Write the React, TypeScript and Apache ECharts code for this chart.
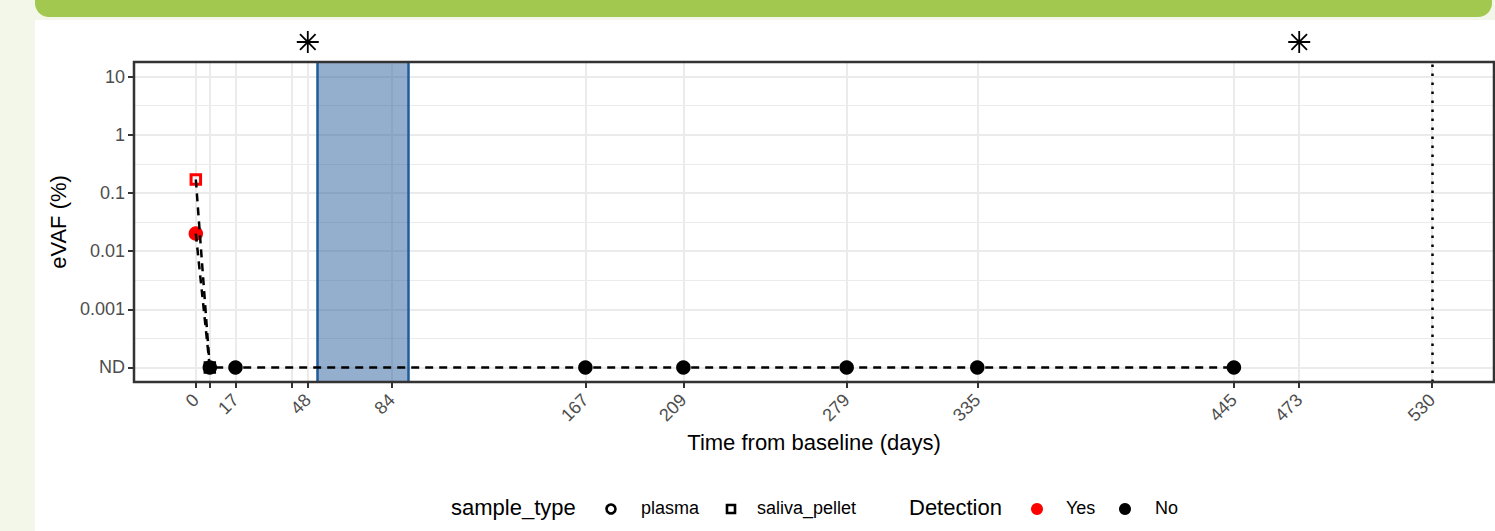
import React, { useEffect, useRef } from "react";
import * as echarts from "echarts";

// ---------- data ----------
const ND_VALUE = 0.0001; // position used for "not detected"
const plasmaDays = [0, 6, 17, 167, 209, 279, 335, 445];
const plasmaVAF: (number | string)[] = [0.02, "ND", "ND", "ND", "ND", "ND", "ND", "ND"];
const plasmaDetection = ["Yes", "No", "No", "No", "No", "No", "No", "No"];

const salivaDays = [0, 6];
const salivaVAF: (number | string)[] = [0.17, "ND"];
const salivaDetection = ["Yes", "No"];

const xTickDays = [0, 6, 17, 41, 48, 84, 167, 209, 279, 335, 445, 473, 530];
const xLabelDays = [0, 17, 48, 84, 167, 209, 279, 335, 445, 473, 530];
const yTickValues = [ND_VALUE, 0.001, 0.01, 0.1, 1, 10];
const yTickLabels = ["ND", "0.001", "0.01", "0.1", "1", "10"];

const treatmentWindow = [52, 91];
const eventDays = [48, 473];
const followUpEnd = 530;

const X_MIN = -26.5;
const X_MAX = 556.5;
const Y_MIN = -4.25; // log10 units
const Y_MAX = 1.25;

const detectionColors: Record<string, string> = { Yes: "#ff0000", No: "#000000" };

const FONT = "'Liberation Sans', Arial, Helvetica, sans-serif";

const toLog = (v: number | string) => Math.log10(v === "ND" ? ND_VALUE : (v as number));
const yTickLogs = yTickValues.map((v) => Math.log10(v));
const yMinorLogs = yTickLogs.slice(0, -1).map((v, i) => (v + yTickLogs[i + 1]) / 2);

const STAR =
  "path://M11 0L11 22M0 11L22 11M3.2 3.2L18.8 18.8M18.8 3.2L3.2 18.8";

export default function App() {
  const ref = useRef<HTMLDivElement>(null);

  useEffect(() => {
    if (!ref.current) return;
    const chart = echarts.init(ref.current, undefined, { renderer: "svg" });

    const option: any = {
      animation: false,
      textStyle: { fontFamily: FONT },
      grid: {
        left: 134,
        top: 62,
        right: 1,
        height: 320,
        show: true,
        borderColor: "#333333",
        borderWidth: 2.5,
        backgroundColor: "transparent",
        z: 10,
      },
      xAxis: {
        type: "value",
        min: X_MIN,
        max: X_MAX,
        axisLine: { show: false, onZero: false },
        axisTick: {
          show: true,
          customValues: xTickDays,
          length: 6,
          lineStyle: { color: "#333333", width: 2 },
        },
        axisLabel: {
          customValues: xLabelDays,
          rotate: 45,
          fontSize: 18,
          color: "#4d4d4d",
          margin: 15,
          fontFamily: FONT,
        },
        splitLine: { show: true, lineStyle: { color: "#ebebeb", width: 2 } },
        name: "Time from baseline (days)",
        nameLocation: "middle",
        nameGap: 48,
        nameTextStyle: { fontSize: 22, color: "#000000", fontFamily: FONT },
      },
      yAxis: {
        type: "value",
        min: Y_MIN,
        max: Y_MAX,
        axisLine: { show: false, onZero: false },
        axisTick: {
          show: true,
          customValues: yTickLogs,
          length: 6,
          lineStyle: { color: "#333333", width: 2 },
        },
        axisLabel: {
          customValues: yTickLogs,
          fontSize: 18,
          color: "#4d4d4d",
          margin: 9,
          fontFamily: FONT,
          formatter: (v: number) => {
            const i = yTickLogs.findIndex((t) => Math.abs(t - v) < 1e-6);
            return i >= 0 ? yTickLabels[i] : "";
          },
        },
        splitLine: { show: true, lineStyle: { color: "#ebebeb", width: 2 } },
        name: "eVAF (%)",
        nameLocation: "middle",
        nameGap: 61,
        nameTextStyle: { fontSize: 22, color: "#000000", fontFamily: FONT },
      },
      series: [
        {
          name: "minorGrid",
          type: "line",
          data: [],
          z: 0,
          silent: true,
          markLine: {
            z: 0,
            silent: true,
            symbol: "none",
            label: { show: false },
            lineStyle: { color: "#ebebeb", width: 1, type: "solid" },
            emphasis: { disabled: true },
            data: yMinorLogs.map((v) => ({ yAxis: v })),
          },
        },
        {
          name: "treatment",
          type: "line",
          data: [],
          z: 2,
          silent: true,
          markArea: {
            z: 1,
            silent: true,
            itemStyle: { color: "rgba(39,96,155,0.5)", borderWidth: 0 },
            emphasis: { disabled: true },
            data: [[{ xAxis: treatmentWindow[0] }, { xAxis: treatmentWindow[1] }]],
          },
          markLine: {
            silent: true,
            symbol: "none",
            label: { show: false },
            lineStyle: { color: "#1f5c99", width: 2.5, type: "solid" },
            emphasis: { disabled: true },
            data: treatmentWindow.map((d) => ({ xAxis: d })),
          },
        },
        {
          name: "followUp",
          type: "line",
          data: [],
          z: 2,
          silent: true,
          markLine: {
            silent: true,
            symbol: "none",
            label: { show: false },
            lineStyle: { color: "#000000", width: 2.5, type: [2.5, 6.5] },
            emphasis: { disabled: true },
            data: [{ xAxis: followUpEnd }],
          },
        },
        {
          name: "plasma",
          type: "scatter",
          z: 3,
          symbol: "circle",
          symbolSize: 14.5,
          itemStyle: { opacity: 1 },
          data: plasmaDays.map((d, i) => ({
            value: [d, toLog(plasmaVAF[i])],
            itemStyle: { color: detectionColors[plasmaDetection[i]], opacity: 1 },
          })),
        },
        {
          name: "saliva_pellet",
          type: "scatter",
          z: 4,
          symbol: "rect",
          symbolSize: 9.5,
          itemStyle: { opacity: 1 },
          data: salivaDays.map((d, i) => ({
            value: [d, toLog(salivaVAF[i])],
            itemStyle: {
              color: "rgba(0,0,0,0)",
              borderColor: detectionColors[salivaDetection[i]],
              borderWidth: 3,
              opacity: 1,
            },
          })),
        },
        {
          name: "plasmaLine",
          type: "line",
          z: 5,
          showSymbol: false,
          silent: true,
          lineStyle: { color: "#000000", width: 2.5, type: [8, 6] },
          data: plasmaDays.map((d, i) => [d, toLog(plasmaVAF[i])]),
        },
        {
          name: "salivaLine",
          type: "line",
          z: 5,
          showSymbol: false,
          silent: true,
          lineStyle: { color: "#000000", width: 2.5, type: [8, 6] },
          data: salivaDays.map((d, i) => [d, toLog(salivaVAF[i])]),
        },
        {
          name: "events",
          type: "scatter",
          data: [],
          z: 6,
          markPoint: {
            symbol: STAR,
            symbolSize: 22,
            symbolOffset: [0, -20],
            silent: true,
            label: { show: false },
            itemStyle: { color: "rgba(0,0,0,0)", borderColor: "#000000", borderWidth: 1.8 },
            data: eventDays.map((d) => ({ coord: [d, Y_MAX] })),
          },
        },
      ],
      graphic: [
        { type: "text", left: 451, top: 496, style: { text: "sample_type", fontSize: 22, fill: "#000", fontFamily: FONT } },
        { type: "circle", shape: { cx: 611, cy: 509, r: 4.5 }, style: { fill: "#fff", stroke: "#000", lineWidth: 2.6 } },
        { type: "text", left: 641, top: 499, style: { text: "plasma", fontSize: 18, fill: "#000", fontFamily: FONT } },
        { type: "rect", shape: { x: 727, y: 505, width: 8, height: 8 }, style: { fill: "#fff", stroke: "#000", lineWidth: 2.6 } },
        { type: "text", left: 757, top: 499, style: { text: "saliva_pellet", fontSize: 18, fill: "#000", fontFamily: FONT } },
        { type: "text", left: 909, top: 496, style: { text: "Detection", fontSize: 22, fill: "#000", fontFamily: FONT } },
        { type: "circle", shape: { cx: 1037, cy: 509, r: 6 }, style: { fill: "#ff0000" } },
        { type: "text", left: 1066, top: 499, style: { text: "Yes", fontSize: 18, fill: "#000", fontFamily: FONT } },
        { type: "circle", shape: { cx: 1125, cy: 509, r: 6 }, style: { fill: "#000" } },
        { type: "text", left: 1155, top: 499, style: { text: "No", fontSize: 18, fill: "#000", fontFamily: FONT } },
      ],
    };

    chart.setOption(option);
    return () => chart.dispose();
  }, []);

  return (
    <div style={{ position: "fixed", left: 0, top: 0, width: 1495, height: 531, background: "#f3f7e9", overflow: "hidden" }}>
      <div style={{ position: "absolute", left: 35, top: -20, width: 1457, height: 37, background: "#a3c850", borderRadius: 14 }} />
      <div style={{ position: "absolute", left: 35, top: 20, width: 1460, height: 511, background: "#ffffff" }} />
      <div ref={ref} style={{ position: "absolute", left: 0, top: 0, width: 1495, height: 531 }} />
    </div>
  );
}
